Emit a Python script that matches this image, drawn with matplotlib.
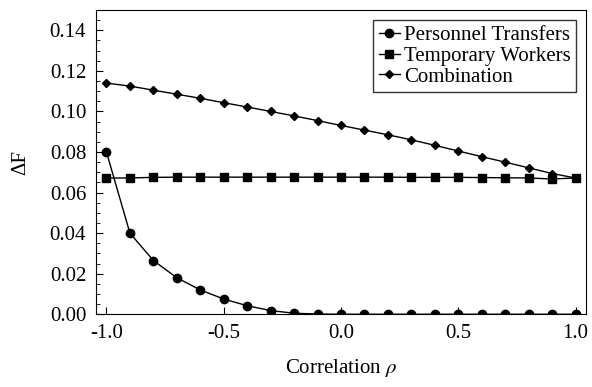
import matplotlib
matplotlib.use("Agg")
from matplotlib import pyplot as plt
from matplotlib.ticker import MultipleLocator
import numpy as np

plt.rcParams['font.family'] = ['Liberation Serif', 'DejaVu Serif']
plt.rcParams['mathtext.fontset'] = 'stix'

# 数据
rho = [-1.0, -0.9, -0.8, -0.7, -0.6, -0.5, -0.4, -0.3, -0.2, -0.1, 0.0,
       0.1, 0.2, 0.3, 0.4, 0.5, 0.6, 0.7, 0.8, 0.9, 1.0]
personnel = [0.080, 0.040, 0.0265, 0.018, 0.012, 0.0075, 0.0042, 0.0018, 0.0005, 0.0001, 0.0,
             0.0, 0.0, 0.0, 0.0, 0.0, 0.0, 0.0, 0.0, 0.0, 0.0]
temporary = [0.0672, 0.0672, 0.0675, 0.0676, 0.0676, 0.0676, 0.0676, 0.0676, 0.0676, 0.0676, 0.0676,
             0.0676, 0.0676, 0.0675, 0.0675, 0.0675, 0.0674, 0.0673, 0.0672, 0.0667, 0.0672]
combination = [0.1140, 0.1125, 0.1105, 0.1085, 0.1065, 0.1043, 0.1022, 0.1000, 0.0978, 0.0955, 0.0931,
               0.0908, 0.0885, 0.0860, 0.0833, 0.0805, 0.0777, 0.0750, 0.0722, 0.0694, 0.0672]

fig = plt.figure(figsize=(5.92, 3.87), dpi=100)
ax = fig.add_axes([0.162, 0.188, 0.828, 0.786])

ax.plot(rho, personnel, color="black", lw=1, marker="o", ms=6, label="Personnel Transfers")
ax.plot(rho, temporary, color="black", lw=1, marker="s", ms=6, label="Temporary Workers")
ax.plot(rho, combination, color="black", lw=1, marker="D", ms=4, label="Combination")

ax.set_xlim(-1.045, 1.045)
ax.set_ylim(0, 0.15)
ax.set_xticks([-1.0, -0.5, 0.0, 0.5, 1.0])
ax.set_xticklabels(["-1.0", "-0.5", "0.0", "0.5", "1.0"])
ax.set_yticks([0.0, 0.02, 0.04, 0.06, 0.08, 0.10, 0.12, 0.14])
ax.set_yticklabels(["0.00", "0.02", "0.04", "0.06", "0.08", "0.10", "0.12", "0.14"])
ax.yaxis.set_minor_locator(MultipleLocator(0.005))
ax.tick_params(direction="in", labelsize=15, length=5, pad=7)
ax.tick_params(which="minor", direction="in", length=3)

ax.set_xlabel(r"Correlation $\rho$", fontsize=15, labelpad=10)
ax.set_ylabel("ΔF", fontsize=15, labelpad=14)

leg = ax.legend(loc="upper right", fontsize=15, frameon=True, fancybox=False,
                edgecolor="black", handlelength=1.0, handletextpad=0.2,
                borderpad=0.25, labelspacing=0.05, borderaxespad=0.5)
leg.get_frame().set_linewidth(1)

plt.savefig("out.png", dpi=100)
